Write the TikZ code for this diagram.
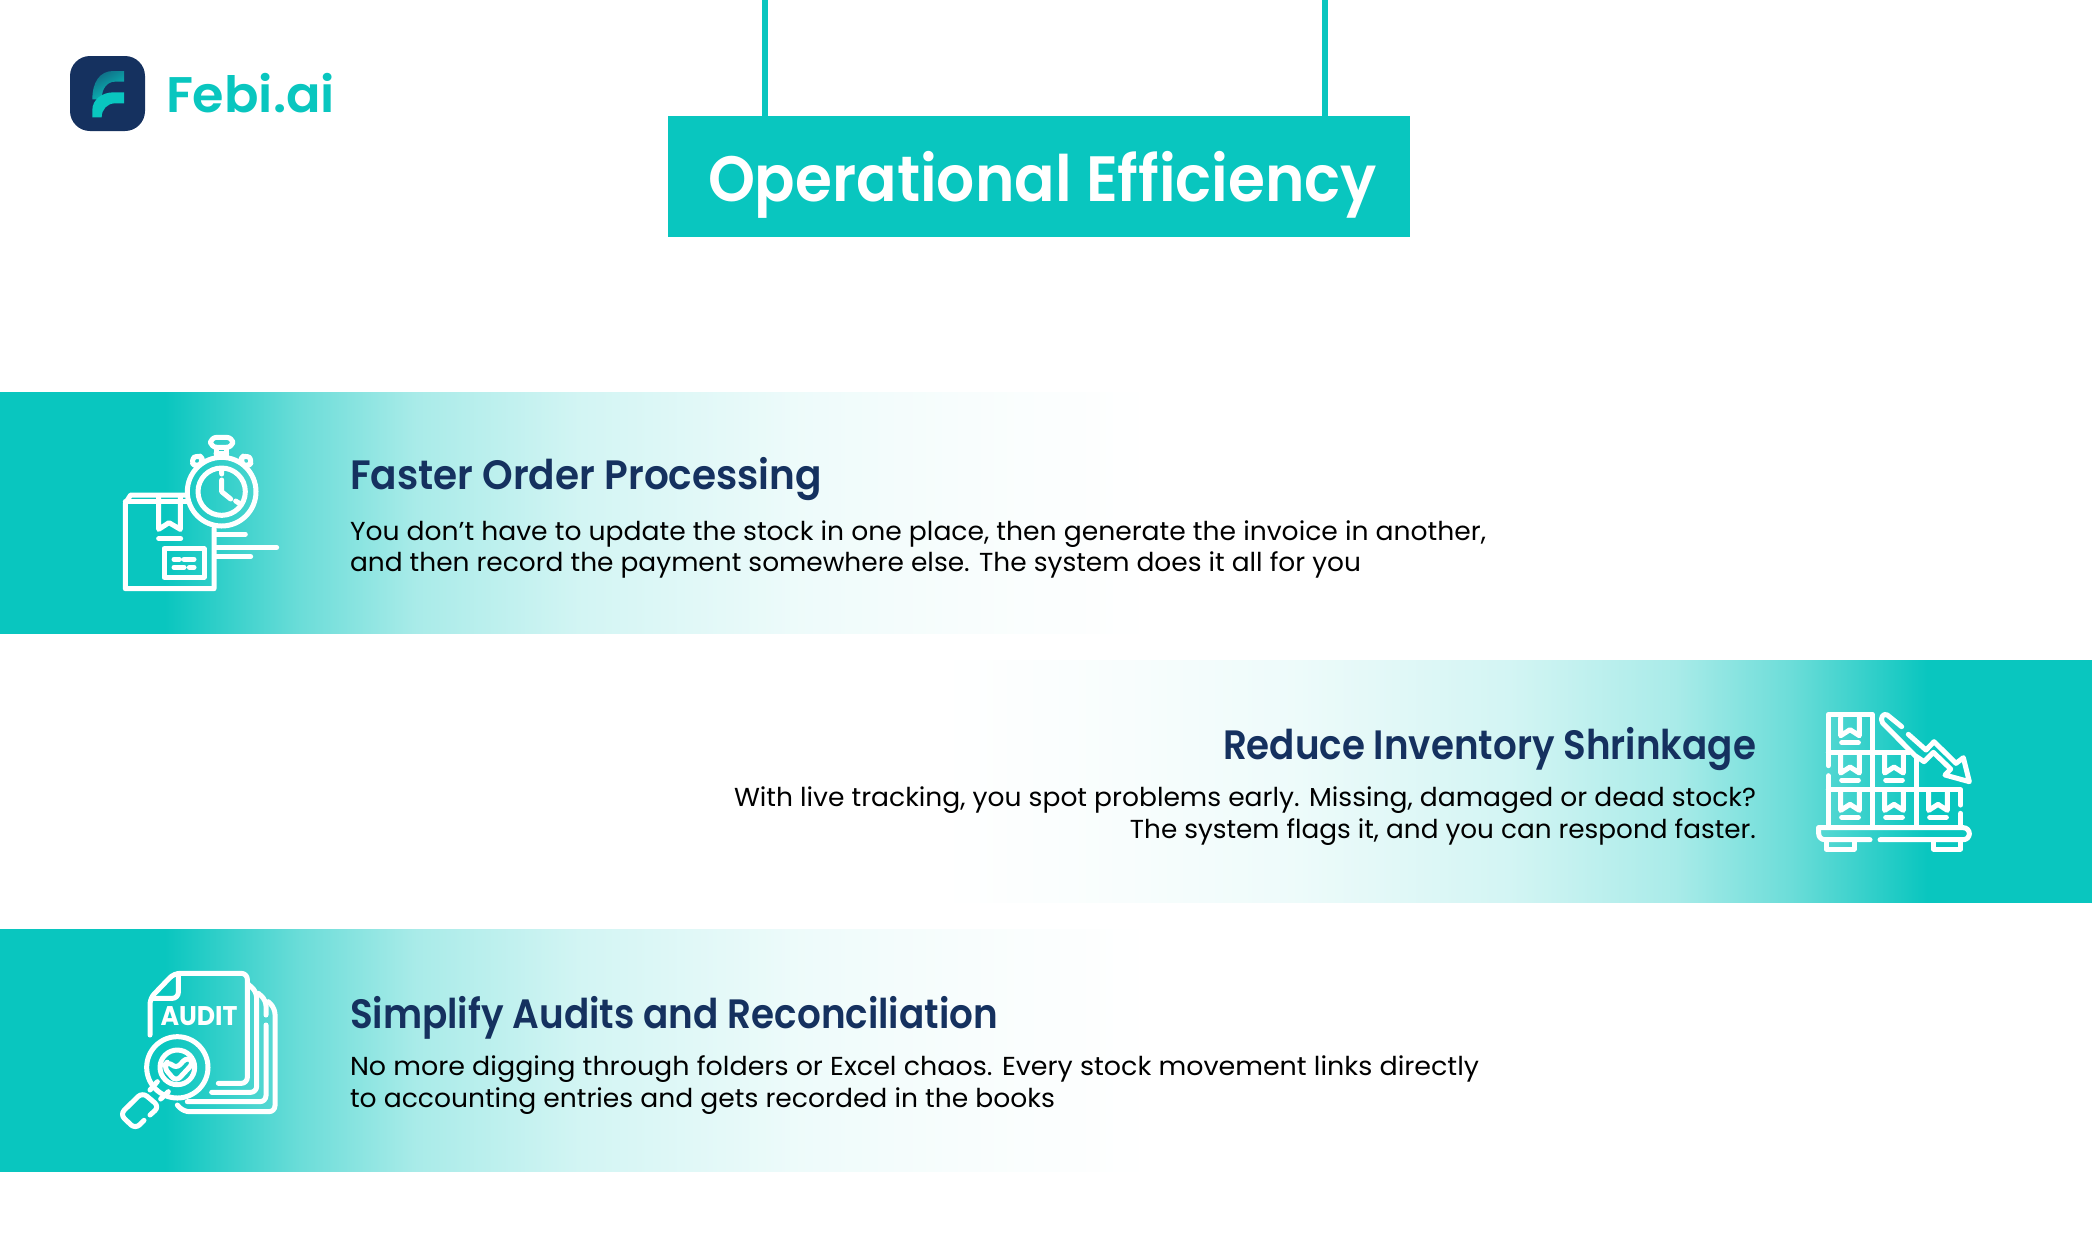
\documentclass[tikz,border=0pt]{standalone}
\usepackage{graphicx}
\usepackage{fontspec}
\setmainfont{Poppins}
\newfontfamily\headfont{Poppins SemiBold}
\definecolor{teal}{RGB}{9,198,191}
\definecolor{navy}{RGB}{21,49,95}
\pgfdeclarehorizontalshading{bandshade}{100bp}{
 rgb(0bp)=(0.035,0.776,0.749);
 rgb(32bp)=(0.035,0.776,0.749);
 rgb(37.8bp)=(0.421,0.866,0.849);
 rgb(42.7bp)=(0.662,0.922,0.912);
 rgb(49.7bp)=(0.826,0.960,0.955);
 rgb(59bp)=(0.932,0.984,0.982);
 rgb(66bp)=(0.972,0.993,0.992);
 rgb(74bp)=(1,1,1);
 rgb(100bp)=(1,1,1)}
\newcommand{\fitw}[2]{\resizebox{\dimexpr #1pt/2\relax}{\height}{#2}}
\tikzset{
 txt/.style={inner sep=0pt,outer sep=0pt},
 ln/.style={draw=white,line width=2.5pt,line cap=round,line join=round},
 roundln/.style={ln,rounded corners=3pt},
 headtxt/.style={txt,text=navy,font=\headfont\fontsize{20.5}{24}\selectfont},
 bodytxt/.style={txt,text=black,font=\fontsize{13}{16}\selectfont},
 icon/.style={x=0.16667pt,y=-0.16667pt}
}
\begin{document}
\begin{tikzpicture}[x=0.5pt,y=-0.5pt]
\useasboundingbox (0,0) rectangle (2092,1232);
% bands
\fill[shading=bandshade] (0,392) rectangle (1175,633);
\fill[shading=bandshade,shading angle=180] (917,660) rectangle (2092,902);
\fill[shading=bandshade] (0,929) rectangle (1175,1171);
% banner
\node[fill=teal,minimum width=371pt,minimum height=60.5pt,inner sep=0pt,outer sep=0pt,anchor=north west] (banner) at (668,116) {};
\coordinate (hangA) at (765,0);
\coordinate (hangB) at (1325,0);
\draw[teal,line width=3pt] (hangA) -- (hangA |- banner.north);
\draw[teal,line width=3pt] (hangB) -- (hangB |- banner.north);
\node[txt,anchor=base west,text=white,font=\headfont\fontsize{32}{36}\selectfont] (title) at (708,201) {\fitw{669}{Operational Efficiency}};
% logo
\node[fill=navy,rounded corners=10pt,minimum width=37.5pt,minimum height=37.5pt,inner sep=0pt,outer sep=0pt,anchor=north west] (logo) at (70,56) {};
\begin{scope}[shift={(50,30)},icon]
\shade[left color=navy!60!teal,right color=teal,shading angle=30] (127,208) .. controls (127,155) and (150,123) .. (190,123) -- (222,123) -- (222,155) -- (195,155) .. controls (172,155) and (155,175) .. (155,208) -- cycle;
\fill[teal] (127,262) -- (127,240) .. controls (127,210) and (155,187) .. (190,187) -- (222,187) -- (222,220) -- (195,220) .. controls (172,220) and (155,238) .. (155,262) -- cycle;
\end{scope}
\node[txt,anchor=base west,text=teal,font=\headfont\fontsize{25}{28}\selectfont] (brand) at (166,112) {\fitw{169}{Febi.ai}};
% band 1 text
\node[headtxt,anchor=base west] (h1) at (350,489) {\fitw{472}{Faster Order Processing}};
\node[bodytxt,anchor=base west] (b1a) at (350,540) {\fitw{1136}{You don’t have to update the stock in one place, then generate the invoice in another,}};
\node[bodytxt,anchor=base west] (b1b) at (350,571) {\fitw{1011}{and then record the payment somewhere else. The system does it all for you}};
% band 2 text
\node[headtxt,anchor=base east] (h2) at (1756,759) {\fitw{533}{Reduce Inventory Shrinkage}};
\node[bodytxt,anchor=base east] (b2a) at (1756,806) {\fitw{1022}{With live tracking, you spot problems early. Missing, damaged or dead stock?}};
\node[bodytxt,anchor=base east] (b2b) at (1756,838) {\fitw{626}{The system flags it, and you can respond faster.}};
% band 3 text
\node[headtxt,anchor=base west] (h3) at (350,1028) {\fitw{648}{Simplify Audits and Reconciliation}};
\node[bodytxt,anchor=base west] (b3a) at (350,1075) {\fitw{1129}{No more digging through folders or Excel chaos. Every stock movement links directly}};
\node[bodytxt,anchor=base west] (b3b) at (350,1107) {\fitw{705}{to accounting entries and gets recorded in the books}};
% icon 1
\begin{scope}[shift={(100,420)},icon]
\draw[ln] (342,325) -- (342,506) -- (76,506) -- (76,250) -- (92,225) -- (258,225);
\draw[ln] (76,245) -- (265,245);
\draw[ln] (176,228) -- (176,328) -- (207,308) -- (241,328) -- (241,228);
\draw[ln] (176,356) -- (242,356);
\draw[ln] (192,386) rectangle (312,472);
\draw[ln] (222,418) -- (238,418) (252,418) -- (282,418) (222,442) -- (252,442) (268,442) -- (282,442);
\draw[ln] (365,215) circle[radius=103];
\draw[ln] (365,215) circle[radius=71];
\draw[ln] (365,180) -- (365,215) -- (392,237);
\draw[ln] (365,152) -- (365,162) (407,243) -- (418,250);
\draw[roundln] (332,52) rectangle (398,82);
\draw[ln] (348,82) -- (348,110) (380,82) -- (380,110) (348,100) -- (380,100);
\draw[roundln] (270,122) -- (295,102) -- (312,122) -- (290,143) -- cycle;
\draw[roundln] (460,122) -- (435,102) -- (418,122) -- (440,143) -- cycle;
\draw[ln] (345,342) -- (436,342) (345,382) -- (530,382) (345,410) -- (452,410);
\end{scope}
% icon 2
\begin{scope}[shift={(1800,695)},icon]
\draw[roundln] (56,398) -- (508,398) -- (508,434) -- (240,434);
\draw[roundln] (210,434) -- (56,434) -- (56,398);
\draw[ln] (78,440) -- (78,462) -- (162,462) -- (162,440) (400,440) -- (400,462) -- (482,462) -- (482,440);
\draw[ln] (85,212) -- (85,58) -- (217,58) -- (217,392);
\draw[ln] (85,242) -- (85,392);
\draw[ln] (85,172) -- (328,172) (85,284) -- (482,284) -- (482,330) (482,355) -- (482,392);
\draw[ln] (348,190) -- (348,392);
\foreach \cx/\cy in {150/68,150/180,282/180,150/292,282/292,414/292}{
 \draw[ln] (\cx-28,\cy) -- (\cx-28,\cy+54) -- (\cx,\cy+36) -- (\cx+28,\cy+54) -- (\cx+28,\cy);
 \draw[ln] (\cx-25,\cy+75) -- (\cx+25,\cy+75);
}
\draw[ln] (305,95) -- (262,60) .. controls (250,52) and (238,70) .. (248,84) -- (345,182) -- (372,200) -- (400,172) -- (452,222) -- (435,240) -- (508,260) -- (490,188) -- (468,205) -- (402,140) -- (378,165) -- (325,118);
\end{scope}
% icon 3
\begin{scope}[shift={(100,955)},icon]
\draw[roundln] (150,240) -- (150,130) -- (222,55) -- (442,55) -- (442,385) -- (355,385);
\draw[roundln] (155,130) -- (235,130) -- (235,58);
\draw[roundln] (445,88) -- (470,110) -- (470,412) -- (335,412);
\draw[roundln] (475,115) -- (498,135) -- (498,180);
\draw[roundln] (498,210) -- (498,440) -- (262,440);
\draw[roundln] (505,140) -- (525,160) -- (525,470) -- (250,470) -- (232,450);
\node[txt,anchor=base,text=white,font=\fontsize{13.5}{15}\bfseries\selectfont] (audit) at (297,212) {\fitw{77}{AUDIT}};
\draw[ln] (232,337) circle[radius=92];
\draw[ln] (232,337) circle[radius=52];
\draw[roundln] (190,335) -- (205,318) -- (228,342) -- (262,305) -- (282,322) -- (228,380) -- cycle;
\draw[ln] (150,405) -- (172,380) (182,432) -- (205,410);
\draw[roundln] (150,480) -- (178,455) -- (127,412) -- (60,478) -- (106,522) -- (132,496);
\end{scope}
\end{tikzpicture}
\end{document}
